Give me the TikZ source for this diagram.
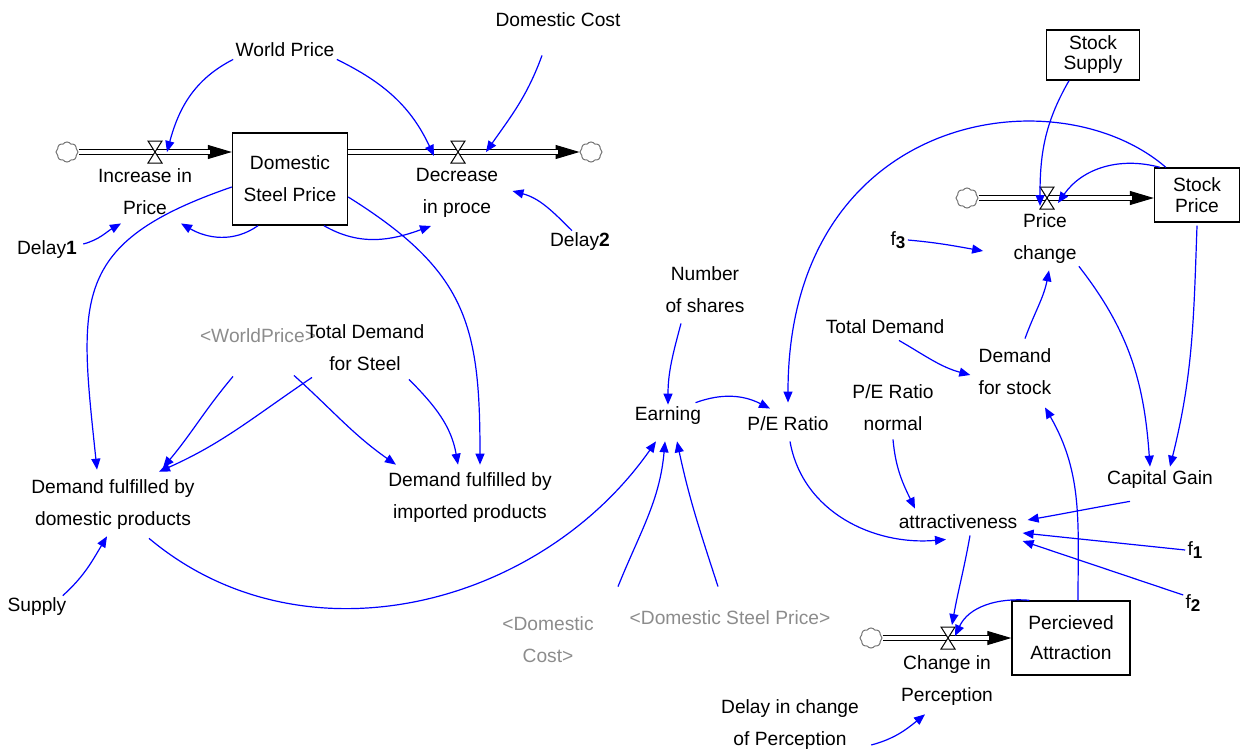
\documentclass[tikz,border=0pt]{standalone}
\usepackage{fontspec}
\setmainfont{Liberation Sans}
\usetikzlibrary{arrows.meta,shapes.symbols}
\begin{document}
\begin{tikzpicture}[x=0.5pt,y=-0.5pt,
  lbl/.style={font=\fontsize{9.6}{16}\selectfont, align=center, inner sep=1pt},
  shadowvar/.style={lbl, text=black!45},
  box/.style={draw, line width=0.7pt, align=center, inner sep=0pt},
  cl/.style={cloud, cloud puffs=8, cloud puff arc=110, aspect=1.1, draw=black!55, line width=0.5pt, minimum width=11pt, minimum height=10pt, inner sep=0pt},
  valve/.style={minimum width=7pt, minimum height=11pt, inner sep=0pt, outer sep=0pt},
  lnk/.style={blue, line width=0.6pt, -{Triangle[length=5.5pt,width=4.5pt]}},
  pipe/.style={double, double distance=1.6pt, line width=0.5pt, shorten >=11pt},
  pipetip/.style={line width=0.5pt, -{Triangle[length=12pt,width=7pt]}}
]
\useasboundingbox (0,0) rectangle (1242,750);

% ---------- stocks ----------
\node[box, minimum width=57.5pt, minimum height=46pt, font=\fontsize{9.6}{16}\selectfont] (dsp) at (290,179) {Domestic\\Steel Price};
\node[box, minimum width=46.5pt, minimum height=25pt, font=\fontsize{9.6}{10}\selectfont] (ss) at (1093,55) {Stock\\Supply};
\node[box, minimum width=42.5pt, minimum height=27pt, font=\fontsize{9.6}{10.5}\selectfont] (sp) at (1197,195) {Stock\\Price};
\node[box, minimum width=59pt, minimum height=37pt, font=\fontsize{9.6}{15}\selectfont] (pa) at (1071,638) {Percieved\\Attraction};

% ---------- clouds and valves ----------
\node[cl] (c1) at (67,152) {};
\node[cl] (c2) at (591,152) {};
\node[cl] (c3) at (967,198) {};
\node[cl] (c4) at (871,638) {};
\node[valve] (v1) at (155,152) {};
\node[valve] (v2) at (458,152) {};
\node[valve] (v3) at (1047,198) {};
\node[valve] (v4) at (948,638) {};

% ---------- pipes ----------
\draw[pipetip] (v1.center) -- (dsp.west |- c1);
\draw[pipe] (c1.east) -- (dsp.west |- c1);
\draw[pipetip] (v2.center) -- (c2.west);
\draw[pipe] (dsp.east |- c2) -- (c2.west);
\draw[pipetip] (v3.center) -- (sp.west |- c3);
\draw[pipe] (c3.east) -- (sp.west |- c3);
\draw[pipetip] (v4.center) -- (pa.west |- c4);
\draw[pipe] (c4.east) -- (pa.west |- c4);
\foreach \v in {v1,v2,v3,v4}
  \draw[line width=0.5pt, fill=white] (\v.north west) -- (\v.north east) -- (\v.south west) -- (\v.south east) -- cycle;

% ---------- variables ----------
\node[lbl] (wp) at (285,50) {World Price};
\node[lbl] (dc) at (558,20) {Domestic Cost};
\node[lbl] (inc) at (145,192) {Increase in\\Price};
\node[lbl] (dec) at (457,193) {Decrease\\in proce};
\node[lbl] (d1) at (47,250) {Delay\textbf{1}};
\node[lbl] (d2) at (580,242) {Delay\textbf{2}};
\node[lbl] (pc) at (1045,239) {Price\\change};
\node[lbl] (f3) at (898,240) {f\raisebox{-1.5pt}{\fontsize{8.5}{10}\selectfont\bfseries 3}};
\node[lbl] (ns) at (705,290) {Number\\of shares};
\node[lbl] (td2) at (885,327) {Total Demand};
\node[lbl] (dfs) at (1015,372) {Demand\\for stock};
\node[lbl] (pen) at (893,408) {P/E Ratio\\normal};
\node[lbl] (earn) at (668,416) {Earning};
\node[lbl] (pe) at (788,424) {P/E Ratio};
\node[shadowvar] (wpg) at (258,336) {<WorldPrice>};
\node[lbl] (tds) at (365,348) {Total Demand\\for Steel};
\node[lbl] (dfd) at (113,505) {Demand fulfilled by\\domestic products};
\node[lbl] (dfi) at (470,498) {Demand fulfilled by\\imported products};
\node[lbl] (cg) at (1160,480) {Capital Gain};
\node[lbl] (att) at (958,522) {attractiveness};
\node[lbl] (f1) at (1195,550) {f\raisebox{-1.5pt}{\fontsize{8.5}{10}\selectfont\bfseries 1}};
\node[lbl] (f2) at (1193,603) {f\raisebox{-1.5pt}{\fontsize{8.5}{10}\selectfont\bfseries 2}};
\node[lbl] (sup) at (37,607) {Supply};
\node[shadowvar] (dcg) at (548,640) {<Domestic\\Cost>};
\node[shadowvar] (dspg) at (730,618) {<Domestic Steel Price>};
\node[lbl] (cip) at (947,681) {Change in\\Perception};
\node[lbl] (dcp) at (790,725) {Delay in change\\of Perception};

% ---------- links ----------
\draw[lnk] (wp.south west) to[out=207,in=75] ([xshift=6pt]v1.center);
\draw[lnk] (wp.south east) to[out=334,in=115] ([xshift=-12pt,yshift=-2pt]v2.center);
\draw[lnk] ([xshift=-8pt,yshift=-13pt]dc.south) to[out=250,in=55] ([xshift=14pt]v2.center);
\draw[lnk] ([xshift=2pt,yshift=3pt]d1.east) to[out=15,in=210] ([xshift=-12pt,yshift=-3pt]inc.south);
\draw[lnk] ([xshift=-4pt]d2.north) to[out=135,in=-15] ([xshift=6pt,yshift=1pt]dec.east);
\draw[lnk] ([xshift=-16pt]dsp.south) to[out=215,in=-30] ([xshift=18pt,yshift=-3pt]inc.south);
\draw[lnk] ([xshift=17pt]dsp.south) to[out=-30,in=200] ([xshift=-13pt,yshift=-3pt]dec.south);
\draw[lnk] ([yshift=-4pt]dsp.west) to[out=199,in=96,looseness=1.4] ([xshift=-8pt,yshift=4pt]dfd.north);
\draw[lnk] ([yshift=-9pt]dsp.east) to[out=328,in=90,looseness=1.2] ([xshift=5pt,yshift=3pt]dfi.north);
\draw[lnk] ([xshift=-12.5pt,yshift=-15.5pt]wpg.south) to[out=230,in=50] ([xshift=25pt,yshift=5pt]dfd.north);
\draw[lnk] ([xshift=27pt,yshift=-16pt]wpg.south) to[out=214,in=24] ([xshift=23pt,yshift=3pt]dfd.north);
\draw[lnk] ([xshift=18pt,yshift=-15pt]wpg.south) to[out=-42,in=145] ([xshift=5pt,yshift=3pt]dfi.north west);
\draw[lnk] ([xshift=22pt,yshift=-3pt]tds.south) to[out=-45,in=100] ([xshift=-6pt,yshift=3pt]dfi.north);
\draw[lnk] ([xshift=-3pt]sup.north east) to[out=42,in=239] ([xshift=-3pt,yshift=-2pt]dfd.south);
\draw[lnk] ([xshift=18pt,yshift=-3pt]dfd.south) to[out=-40,in=235] ([xshift=-6pt,yshift=-7pt]earn.south);
\draw[lnk] ([xshift=35pt,yshift=14pt]dcg.north) to[out=68,in=-95] ([xshift=-1.5pt,yshift=-7pt]earn.south);
\draw[lnk] ([xshift=-6pt,yshift=11pt]dspg.north) to[out=108,in=-78] ([xshift=4.5pt,yshift=-7pt]earn.south);
\draw[lnk] ([xshift=-12pt,yshift=-4pt]ns.south) to[out=255,in=90] (earn.north);
\draw[lnk] ([xshift=-4pt,yshift=1pt]earn.north east) to[out=20,in=153] ([xshift=-9pt,yshift=3pt]pe.north);
\draw[lnk] ([xshift=6pt]sp.north west) .. controls +(-110,-95) and +(0,-290) .. ([yshift=6pt]pe.north);
\draw[lnk] ([xshift=1pt,yshift=-4pt]pe.south) to[out=-80,in=185] ([xshift=-6pt,yshift=-4pt]att.south);
\draw[lnk] ([yshift=-3pt]pen.south) to[out=-85,in=116] ([xshift=-21.5pt,yshift=2pt]att.north);
\draw[lnk] ([xshift=7pt,yshift=-2pt]td2.south) to[out=-30,in=165] ([xshift=-3pt,yshift=-1.5pt]dfs.west);
\draw[lnk] ([xshift=5pt,yshift=4pt]dfs.north) to[out=70,in=259] ([xshift=2pt,yshift=-2pt]pc.south);
\draw[lnk] ([xshift=-12pt]ss.south) to[out=240,in=90] ([xshift=-3.5pt,yshift=-4pt]v3.center);
\draw[lnk] ([xshift=3pt]sp.north west) to[out=165,in=55] ([xshift=5.5pt,yshift=-2.5pt]v3.center);
\draw[lnk] (f3.east) to[out=-5,in=170] ([xshift=-14pt,yshift=-6pt]pc.west);
\draw[lnk] (pc.south east) to[out=-52,in=94] ([xshift=-5pt,yshift=1pt]cg.north);
\draw[lnk] ([yshift=-1.5pt]sp.south) to[out=-92,in=76] ([xshift=5pt,yshift=1pt]cg.north);
\draw[lnk] ([xshift=-15pt,yshift=-5pt]cg.south) to[out=190,in=10] ([xshift=4pt,yshift=1pt]att.east);
\draw[lnk] (f1.west) -- ([xshift=1.5pt,yshift=-5.5pt]att.east);
\draw[lnk] ([yshift=4pt]f2.west) -- ([xshift=1.5pt,yshift=-9.5pt]att.east);
\draw[lnk] ([xshift=6pt,yshift=-2pt]att.south) to[out=-100,in=80] ([xshift=2pt,yshift=6.5pt]v4.center);
\draw[lnk] ([xshift=9pt]pa.north west) to[out=175,in=65] ([xshift=3.5pt,yshift=1pt]v4.center);
\draw[lnk] ([xshift=3.5pt]pa.north) to[out=90,in=-60] ([xshift=15pt,yshift=-5pt]dfs.south);
\draw[lnk] ([xshift=5pt,yshift=-10pt]dcp.east) to[out=15,in=219] ([xshift=-11pt,yshift=-3pt]cip.south);
\end{tikzpicture}
\end{document}
